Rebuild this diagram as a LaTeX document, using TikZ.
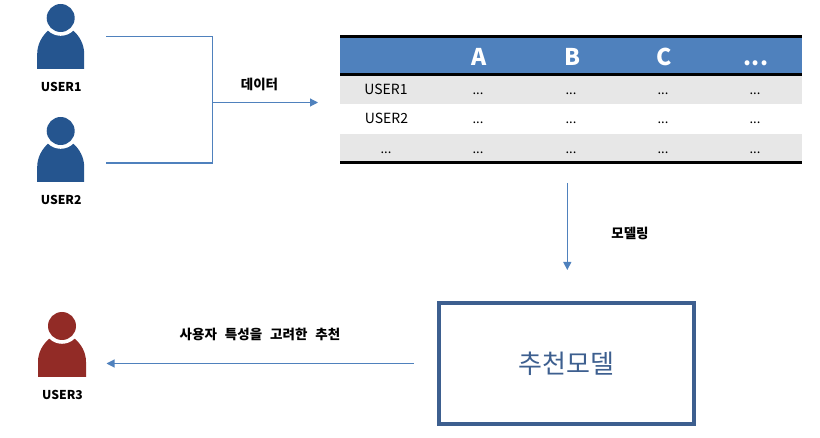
\documentclass[tikz,border=0pt]{standalone}
\usepackage{fontspec}
\setmainfont{Noto Sans CJK KR}
\usetikzlibrary{arrows.meta}
\definecolor{userblue}{HTML}{25558F}
\definecolor{userred}{HTML}{922B26}
\definecolor{linkblue}{HTML}{4F81BD}
\definecolor{rowgray}{HTML}{E7E7E7}
\definecolor{boxblue}{HTML}{3D5F8F}
\tikzset{
  link/.style={draw=linkblue,line width=1.1pt},
  linkarrow/.style={link,-{Triangle[length=8pt,width=8pt]}},
  rule/.style={line width=3pt,black},
  userlabel/.style={font=\fontsize{12.2}{14}\selectfont\bfseries,anchor=base},
  caption/.style={font=\fontsize{13.5}{15}\selectfont\bfseries},
  cell/.style={font=\fontsize{14}{16}\selectfont,anchor=base},
  dots/.style={font=\fontsize{13}{14}\selectfont,anchor=base},
  headcell/.style={font=\fontsize{23}{25}\selectfont\bfseries,text=white,anchor=base},
  modelbox/.style={draw=boxblue,line width=3.6pt,minimum width=255pt,minimum height=121pt,
    text=boxblue,font=\fontsize{26}{28}\selectfont}
}
\begin{document}
\begin{tikzpicture}[x=1pt,y=-1pt]
  \useasboundingbox (0,0) rectangle (820,438);
  % users
  \foreach \name/\x/\y/\w/\col in {USER1/60.7/18/23.5/userblue,USER2/60.7/131/23.5/userblue,USER3/62/326/24/userred}{
    \fill[\col] (\x-\w,\y+51) -- (\x-\w,\y+36) .. controls (\x-\w,\y+26) and (\x-\w+5,\y+18) .. (\x-12.7,\y+12.7)
      -- (\x+12.7,\y+12.7) .. controls (\x+\w-5,\y+18) and (\x+\w,\y+26) .. (\x+\w,\y+36) -- (\x+\w,\y+51) -- cycle;
    \fill[white] (\x,\y) circle (17.8);
    \fill[\col] (\x,\y) circle (14);
    \node[userlabel] (\name) at (\x+0.5,\y+73.7) {\name};}
  % table
  \fill[linkblue] (340,37) rectangle (802,75);
  \fill[rowgray] (340,76) rectangle (802,104);
  \fill[rowgray] (340,134) rectangle (802,162);
  \draw[rule] (340,37) -- (802,37);
  \draw[rule] (340,75) -- (802,75);
  \draw[rule] (340,163) -- (802,163);
  \foreach \col/\x in {A/479,B/572,C/664}{
    \node[headcell] (head\col) at (\x,66) {\col};}
  \node[headcell] (headmore) at (756,66) {...};
  \foreach \x in {478,571,663,755}{
    \foreach \y in {94.5,123.5,153.5}{
      \node[dots] (cell\x\y) at (\x,\y) {...};}}
  \node[cell] (row1) at (386,94.5) {USER1};
  \node[cell] (row2) at (386.5,123.5) {USER2};
  \node[dots] (row3) at (386,153.5) {...};
  % model
  \node[modelbox] (model) at (566.5,363.5) {추천모델};
  % connectors
  \coordinate (from1) at (106,36.5);
  \coordinate (from2) at (106,163);
  \coordinate (join) at (212.5,102.5);
  \coordinate (data) at (318,102.5);
  \coordinate (tabledown) at (567.3,183);
  \coordinate (modelin) at (567.3,270);
  \coordinate (modelout) at (413.5,363.5);
  \coordinate (touser) at (106.5,363.5);
  \draw[link] (from1) -| (join);
  \draw[link] (from2) -| (join);
  \draw[linkarrow] (join) -- (data);
  \draw[linkarrow] (tabledown) -- (modelin);
  \draw[linkarrow] (modelout) -- (touser);
  % captions
  \node[caption] (datalabel) at (259.5,84) {데이터};
  \node[caption] (modellabel) at (630,233) {모델링};
  \node[caption] (reclabel) at (260,334) {사용자\hspace{8pt}특성을\hspace{8pt}고려한\hspace{8pt}추천};
\end{tikzpicture}
\end{document}
